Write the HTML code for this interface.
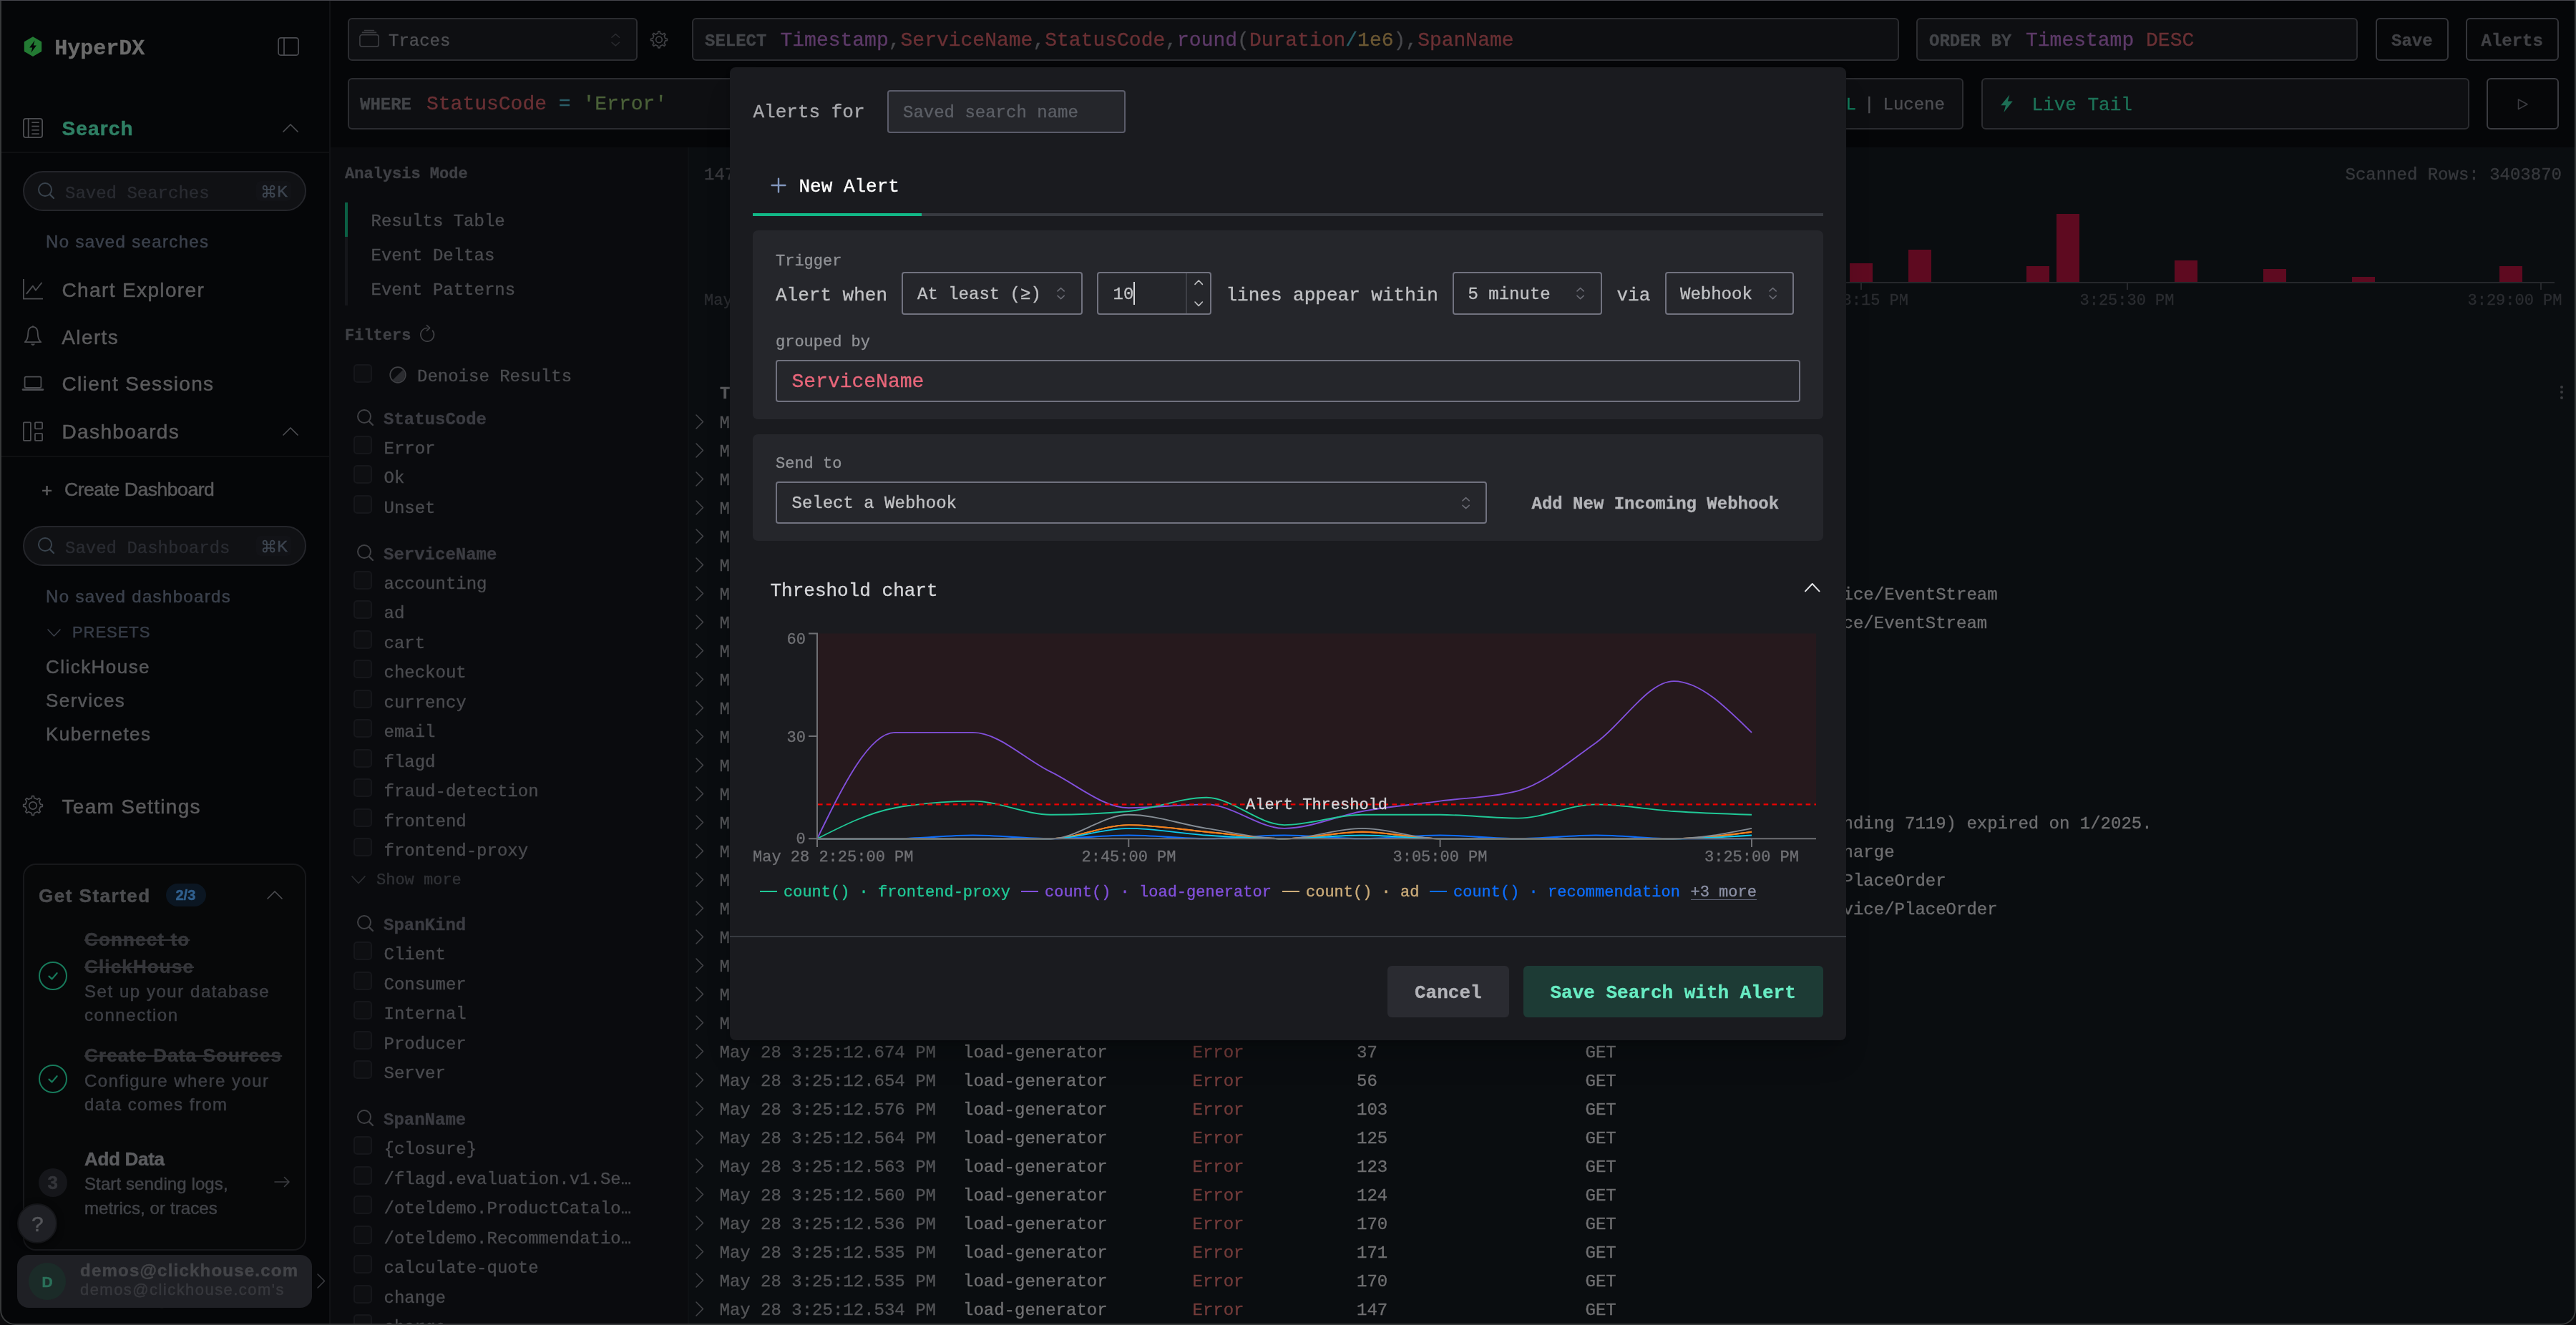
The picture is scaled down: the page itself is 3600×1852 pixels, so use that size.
<!DOCTYPE html>
<html><head><meta charset="utf-8"><title>HyperDX</title>
<style>
html,body{margin:0;padding:0;background:#0a0d10;}
body{width:3600px;height:1852px;position:relative;overflow:hidden;font-family:"Liberation Mono",monospace;}
.a{position:absolute;white-space:nowrap;box-sizing:border-box;}
.s{font-family:"Liberation Sans",sans-serif;-webkit-text-stroke:0.5px;}
.b{font-weight:700;}
#root{position:absolute;left:0;top:0;width:3600px;height:1852px;overflow:hidden;will-change:transform;-webkit-text-stroke:0.35px;}
</style></head><body><div id="root">
<div class="a" style="left:0px;top:0px;width:3600px;height:1852px;background:#0a0d10;"></div>
<div class="a" style="left:0px;top:0px;width:3600px;height:206px;background:#050608;"></div>
<div class="a" style="left:462px;top:206px;width:500px;height:1646px;background:#0a0b0e;"></div>
<div class="a" style="left:961px;top:206px;width:2px;height:1646px;background:#0e1114;"></div>
<div class="a" style="left:0px;top:0px;width:461px;height:1852px;background:#050608;"></div>
<div class="a" style="left:460px;top:0px;width:2px;height:1852px;background:#111215;"></div>
<svg class="a" style="left:30px;top:48px;" width="32" height="34" viewBox="0 0 32 34" fill="none"><path d="M16,3.2 L27.6,9.9 Q28.2,10.3 28.2,11 L28.2,23.2 Q28.2,23.9 27.6,24.3 L16,31 L4.4,24.3 Q3.8,23.9 3.8,23.2 L3.8,11 Q3.8,10.3 4.4,9.9 Z" fill="#237a33"/><path d="M18.6,8.5 L11.2,18.6 L15.2,18.6 L13.4,25.8 L20.9,15.4 L16.8,15.4 Z" fill="#050608"/></svg>
<div class="a " style="left:76.3px;top:52.9px;font-size:30px;line-height:30px;color:#6b6b6b;font-weight:700;">HyperDX</div>
<svg class="a" style="left:386px;top:50px;" width="34" height="30" viewBox="0 0 34 30" fill="none"><rect x="3.1" y="2.8" width="28" height="24.4" rx="3.5" stroke="#4a4b50" stroke-width="1.7"/><line x1="11" y1="3" x2="11" y2="27" stroke="#4a4b50" stroke-width="1.7"/></svg>
<svg class="a" style="left:30px;top:163px;" width="32" height="32" viewBox="0 0 32 32" fill="none"><rect x="2.9" y="2.9" width="26.2" height="26.2" rx="3.2" stroke="#4c4d51" stroke-width="1.8"/><line x1="9.7" y1="3" x2="9.7" y2="29" stroke="#4c4d51" stroke-width="1.8"/><line x1="14.3" y1="8.2" x2="24.8" y2="8.2" stroke="#4c4d51" stroke-width="1.7"/><line x1="14.3" y1="13.5" x2="24.8" y2="13.5" stroke="#4c4d51" stroke-width="1.7"/><line x1="14.3" y1="18.8" x2="24.8" y2="18.8" stroke="#4c4d51" stroke-width="1.7"/><line x1="14.3" y1="24.1" x2="24.8" y2="24.1" stroke="#4c4d51" stroke-width="1.7"/></svg>
<div class="a  s" style="left:86.5px;top:166.1px;font-size:28px;line-height:28px;color:#2f7f64;font-weight:700;letter-spacing:1.15px;">Search</div>
<svg class="a" style="left:394px;top:172px;" width="24" height="14" viewBox="0 0 24 14" fill="none"><polyline points="2,12 12.0,2 22,12" stroke="#4c4d51" stroke-width="1.7" stroke-linecap="round" stroke-linejoin="round"/></svg>
<div class="a" style="left:0px;top:212px;width:460px;height:2px;background:#0f1012;"></div>
<div class="a" style="left:32px;top:239px;width:396px;height:55.5px;background:#101114;border:2px solid #24252a;border-radius:28px;"></div>
<svg class="a" style="left:51px;top:252.5px;" width="32" height="32" viewBox="0 0 32 32" fill="none"><circle cx="12.0" cy="12.0" r="9.0" stroke="#39434d" stroke-width="2"/><line x1="19.07" y1="19.07" x2="24" y2="24" stroke="#39434d" stroke-width="2.4" stroke-linecap="round"/></svg>
<div class="a " style="left:91.0px;top:259.1px;font-size:24px;line-height:24px;color:#2a2c32;">Saved Searches</div>
<div class="a" style="left:358px;top:253px;width:49px;height:28px;background:#121317;border-radius:6px;"></div>
<svg class="a" style="left:364.7px;top:256.6px;" width="21.1" height="21.1" viewBox="0 0 24 24" fill="none"><path d="M18 3a3 3 0 0 0-3 3v12a3 3 0 0 0 3 3 3 3 0 0 0 3-3 3 3 0 0 0-3-3H6a3 3 0 0 0-3 3 3 3 0 0 0 3 3 3 3 0 0 0 3-3V6a3 3 0 0 0-3-3 3 3 0 0 0-3 3 3 3 0 0 0 3 3h12a3 3 0 0 0 3-3 3 3 0 0 0-3-3z" stroke="#3d4550" stroke-width="2.1" stroke-linejoin="round"/></svg>
<div class="a  s" style="left:387.3px;top:257.4px;font-size:22px;line-height:22px;color:#3d4550;">K</div>
<div class="a  s" style="left:64.0px;top:325.7px;font-size:24px;line-height:24px;color:#3b414c;letter-spacing:1.35px;">No saved searches</div>
<svg class="a" style="left:30px;top:388px;" width="32" height="32" viewBox="0 0 32 32" fill="none"><path d="M2.9,2 V29.6 H30" stroke="#4c4d51" stroke-width="1.8"/><polyline points="7.3,22.4 15.9,11.6 19.9,17.7 28.1,7.5" stroke="#4c4d51" stroke-width="1.8" stroke-linejoin="round" stroke-linecap="round"/></svg>
<div class="a  s" style="left:86.5px;top:391.5px;font-size:28px;line-height:28px;color:#5b5b5d;letter-spacing:1.37px;">Chart Explorer</div>
<svg class="a" style="left:30px;top:453px;" width="32" height="34" viewBox="0 0 32 34" fill="none"><path d="M16,3.6 C10.6,4.2 9.2,9 9.2,13.2 C9.2,18 8,22.2 4.8,25.2 H27.2 C24,22.2 22.8,18 22.8,13.2 C22.8,9 21.4,4.2 16,3.6 Z" stroke="#4c4d51" stroke-width="1.8" stroke-linejoin="round"/><path d="M13,27.6 A3.1,3.1 0 0 0 19,27.6 Z" fill="#4c4d51"/><circle cx="16" cy="3.4" r="1.2" fill="#4c4d51"/></svg>
<div class="a  s" style="left:86.3px;top:458.1px;font-size:28px;line-height:28px;color:#5b5b5d;letter-spacing:1.37px;">Alerts</div>
<svg class="a" style="left:30px;top:523px;" width="32" height="26" viewBox="0 0 32 26" fill="none"><rect x="4.6" y="3.6" width="22.8" height="15.2" rx="1.8" stroke="#4c4d51" stroke-width="1.8"/><path d="M2,21.6 H30" stroke="#4c4d51" stroke-width="2.6" stroke-linecap="round"/></svg>
<div class="a  s" style="left:86.5px;top:523.2px;font-size:28px;line-height:28px;color:#5b5b5d;letter-spacing:1.33px;">Client Sessions</div>
<svg class="a" style="left:30px;top:587px;" width="32" height="32" viewBox="0 0 32 32" fill="none"><rect x="2.9" y="3.3" width="10" height="25.6" rx="1" stroke="#4c4d51" stroke-width="1.8"/><rect x="19" y="3.3" width="10.1" height="9" rx="1" stroke="#4c4d51" stroke-width="1.8"/><rect x="19" y="18.8" width="10.1" height="10.1" rx="1" stroke="#4c4d51" stroke-width="1.8"/></svg>
<div class="a  s" style="left:86.5px;top:589.8px;font-size:28px;line-height:28px;color:#5b5b5d;letter-spacing:1.37px;">Dashboards</div>
<svg class="a" style="left:394px;top:596px;" width="24" height="14" viewBox="0 0 24 14" fill="none"><polyline points="2,12 12.0,2 22,12" stroke="#4c4d51" stroke-width="1.7" stroke-linecap="round" stroke-linejoin="round"/></svg>
<div class="a" style="left:0px;top:637px;width:460px;height:2px;background:#0f1012;"></div>
<div class="a  s" style="left:58.0px;top:671.5px;font-size:26px;line-height:26px;color:#5b5b5d;">+</div>
<div class="a  s" style="left:90.0px;top:670.6px;font-size:26.5px;line-height:26.5px;color:#5b5b5d;letter-spacing:-0.45px;">Create Dashboard</div>
<div class="a" style="left:32px;top:735px;width:396px;height:55.5px;background:#101114;border:2px solid #24252a;border-radius:28px;"></div>
<svg class="a" style="left:51px;top:748.5px;" width="32" height="32" viewBox="0 0 32 32" fill="none"><circle cx="12.0" cy="12.0" r="9.0" stroke="#39434d" stroke-width="2"/><line x1="19.07" y1="19.07" x2="24" y2="24" stroke="#39434d" stroke-width="2.4" stroke-linecap="round"/></svg>
<div class="a " style="left:91.0px;top:755.1px;font-size:24px;line-height:24px;color:#2a2c32;">Saved Dashboards</div>
<div class="a" style="left:358px;top:749px;width:49px;height:28px;background:#121317;border-radius:6px;"></div>
<svg class="a" style="left:364.7px;top:752.6px;" width="21.1" height="21.1" viewBox="0 0 24 24" fill="none"><path d="M18 3a3 3 0 0 0-3 3v12a3 3 0 0 0 3 3 3 3 0 0 0 3-3 3 3 0 0 0-3-3H6a3 3 0 0 0-3 3 3 3 0 0 0 3 3 3 3 0 0 0 3-3V6a3 3 0 0 0-3-3 3 3 0 0 0-3 3 3 3 0 0 0 3 3h12a3 3 0 0 0 3-3 3 3 0 0 0-3-3z" stroke="#3d4550" stroke-width="2.1" stroke-linejoin="round"/></svg>
<div class="a  s" style="left:387.3px;top:753.4px;font-size:22px;line-height:22px;color:#3d4550;">K</div>
<div class="a  s" style="left:64.0px;top:821.7px;font-size:24px;line-height:24px;color:#3b414c;letter-spacing:1.35px;">No saved dashboards</div>
<svg class="a" style="left:65px;top:878px;" width="21" height="13" viewBox="0 0 21 13" fill="none"><polyline points="2,2 10.5,11 19,2" stroke="#3a3f49" stroke-width="1.6" stroke-linecap="round" stroke-linejoin="round"/></svg>
<div class="a  s" style="left:101.0px;top:872.9px;font-size:22px;line-height:22px;color:#373d48;letter-spacing:0.95px;">PRESETS</div>
<div class="a  s" style="left:64.0px;top:919.0px;font-size:26px;line-height:26px;color:#56575a;letter-spacing:1.45px;">ClickHouse</div>
<div class="a  s" style="left:64.0px;top:966.0px;font-size:26px;line-height:26px;color:#56575a;letter-spacing:1.45px;">Services</div>
<div class="a  s" style="left:64.0px;top:1013.0px;font-size:26px;line-height:26px;color:#56575a;letter-spacing:1.45px;">Kubernetes</div>
<svg class="a" style="left:30px;top:1110px;" width="32" height="32" viewBox="0 0 32 32" fill="none"><path d="M14.18,5.56 L14.63,2.67 L17.37,2.67 L17.82,5.56 L22.10,7.33 L24.46,5.61 L26.39,7.54 L24.67,9.90 L26.44,14.18 L29.33,14.63 L29.33,17.37 L26.44,17.82 L24.67,22.10 L26.39,24.46 L24.46,26.39 L22.10,24.67 L17.82,26.44 L17.37,29.33 L14.63,29.33 L14.18,26.44 L9.90,24.67 L7.54,26.39 L5.61,24.46 L7.33,22.10 L5.56,17.82 L2.67,17.37 L2.67,14.63 L5.56,14.18 L7.33,9.90 L5.61,7.54 L7.54,5.61 L9.90,7.33 Z" stroke="#4c4d51" stroke-width="1.7" stroke-linejoin="round"/><circle cx="16" cy="16" r="5.2" stroke="#4c4d51" stroke-width="1.7"/></svg>
<div class="a  s" style="left:86.5px;top:1113.6px;font-size:28px;line-height:28px;color:#5b5b5d;letter-spacing:1.3px;">Team Settings</div>
<div class="a" style="left:32px;top:1207px;width:396px;height:540.5px;background:#070809;border:2px solid #17181b;border-radius:18px;"></div>
<div class="a  s" style="left:54.0px;top:1239.0px;font-size:26px;line-height:26px;color:#4b4c4f;font-weight:700;letter-spacing:1.5px;">Get Started</div>
<div class="a" style="left:232px;top:1235px;width:56px;height:32px;background:#0b1622;border-radius:16px;"></div>
<div class="a  s" style="left:245.5px;top:1241.4px;font-size:20px;line-height:20px;color:#305f8d;font-weight:700;">2/3</div>
<svg class="a" style="left:372px;top:1244px;" width="24" height="14" viewBox="0 0 24 14" fill="none"><polyline points="2,12 12.0,2 22,12" stroke="#4c4d51" stroke-width="1.7" stroke-linecap="round" stroke-linejoin="round"/></svg>
<svg class="a" style="left:52px;top:1342px;" width="44" height="44" viewBox="0 0 44 44" fill="none"><circle cx="22" cy="22" r="19" stroke="#177a5b" stroke-width="2"/><polyline points="16.5,22.6 20.6,26.4 27.6,18.2" stroke="#177a5b" stroke-width="2.2" stroke-linecap="round" stroke-linejoin="round"/></svg>
<div class="a  s" style="left:118.0px;top:1300.0px;font-size:26px;line-height:26px;color:#35363a;font-weight:700;letter-spacing:1.15px;text-decoration:line-through;text-decoration-thickness:1.7px;">Connect to</div>
<div class="a  s" style="left:118.0px;top:1338.0px;font-size:26px;line-height:26px;color:#35363a;font-weight:700;letter-spacing:1.15px;text-decoration:line-through;text-decoration-thickness:1.7px;">ClickHouse</div>
<div class="a  s" style="left:118.0px;top:1373.7px;font-size:24px;line-height:24px;color:#3d3f45;letter-spacing:1.55px;">Set up your database</div>
<div class="a  s" style="left:118.0px;top:1406.7px;font-size:24px;line-height:24px;color:#3d3f45;letter-spacing:1.55px;">connection</div>
<svg class="a" style="left:52px;top:1486px;" width="44" height="44" viewBox="0 0 44 44" fill="none"><circle cx="22" cy="22" r="19" stroke="#177a5b" stroke-width="2"/><polyline points="16.5,22.6 20.6,26.4 27.6,18.2" stroke="#177a5b" stroke-width="2.2" stroke-linecap="round" stroke-linejoin="round"/></svg>
<div class="a  s" style="left:118.0px;top:1462.0px;font-size:26px;line-height:26px;color:#35363a;font-weight:700;letter-spacing:1.15px;text-decoration:line-through;text-decoration-thickness:1.7px;">Create Data Sources</div>
<div class="a  s" style="left:118.0px;top:1498.7px;font-size:24px;line-height:24px;color:#3d3f45;letter-spacing:1.45px;">Configure where your</div>
<div class="a  s" style="left:118.0px;top:1531.7px;font-size:24px;line-height:24px;color:#3d3f45;letter-spacing:1.45px;">data comes from</div>
<div class="a  s" style="left:118.0px;top:1606.5px;font-size:26px;line-height:26px;color:#5b5c5f;font-weight:700;letter-spacing:-0.3px;">Add Data</div>
<div class="a" style="left:54px;top:1633px;width:40px;height:40px;background:#15161a;border-radius:20px;"></div>
<div class="a  s" style="left:66.5px;top:1640.0px;font-size:26px;line-height:26px;color:#34353a;font-weight:700;">3</div>
<div class="a  s" style="left:118.0px;top:1643.2px;font-size:24px;line-height:24px;color:#414348;letter-spacing:0.1px;">Start sending logs,</div>
<div class="a  s" style="left:118.0px;top:1676.7px;font-size:24px;line-height:24px;color:#414348;letter-spacing:0.1px;">metrics, or traces</div>
<svg class="a" style="left:382px;top:1642px;" width="26" height="20" viewBox="0 0 26 20" fill="none"><path d="M2,10 H22 M15.5,3.5 L22,10 L15.5,16.5" stroke="#3c3d41" stroke-width="1.6" stroke-linecap="round" stroke-linejoin="round"/></svg>
<div class="a" style="left:24px;top:1682px;width:56px;height:56px;background:#1f2025;border:2px solid #141518;border-radius:28px;box-shadow:0 2px 10px rgba(0,0,0,.6);"></div>
<div class="a  s" style="left:44.0px;top:1695.6px;font-size:30px;line-height:30px;color:#55565a;">?</div>
<div class="a  s" style="left:150.0px;top:1807.4px;font-size:22px;line-height:22px;color:#121317;">demos@clickhouse.com</div>
<div class="a" style="left:24px;top:1754px;width:412px;height:74px;background:#1f2025;border-radius:16px;"></div>
<div class="a" style="left:40px;top:1765px;width:52px;height:52px;background:#1b2b28;border-radius:26px;"></div>
<div class="a  s" style="left:58.6px;top:1780.8px;font-size:21px;line-height:21px;color:#2a7059;font-weight:700;">D</div>
<div class="a  s" style="left:112.0px;top:1763.9px;font-size:24px;line-height:24px;color:#434448;font-weight:700;letter-spacing:1.22px;">demos@clickhouse.com</div>
<div class="a  s" style="left:112.0px;top:1792.4px;font-size:22px;line-height:22px;color:#37383d;letter-spacing:1.45px;">demos@clickhouse.com's</div>
<svg class="a" style="left:442px;top:1779px;" width="13.5" height="23" viewBox="0 0 13.5 23" fill="none"><polyline points="2,2 11.5,11.5 2,21" stroke="#3a3b3f" stroke-width="1.6" stroke-linecap="round" stroke-linejoin="round"/></svg>
<div class="a" style="left:486px;top:25px;width:405px;height:60px;background:#0e0f12;border:2px solid #2b2c30;border-radius:6px;"></div>
<svg class="a" style="left:500px;top:40px;" width="32" height="28" viewBox="0 0 32 28" fill="none"><rect x="2.9" y="8.6" width="26.2" height="16.6" rx="3" stroke="#3a3b3f" stroke-width="1.7"/><line x1="6.5" y1="5.4" x2="25.5" y2="5.4" stroke="#3a3b3f" stroke-width="1.6" stroke-linecap="round"/><line x1="9.5" y1="2.4" x2="22.5" y2="2.4" stroke="#3a3b3f" stroke-width="1.5" stroke-linecap="round"/></svg>
<div class="a " style="left:543.0px;top:45.9px;font-size:24px;line-height:24px;color:#4e4f53;">Traces</div>
<svg class="a" style="left:853px;top:44.5px;" width="14.5" height="21.5" viewBox="0 0 14.5 21.5" fill="none"><polyline points="2,7.25 7.25,2.6 12.5,7.25" stroke="#2a2b2f" stroke-width="1.5" stroke-linecap="round" stroke-linejoin="round"/><polyline points="2,14.25 7.25,18.9 12.5,14.25" stroke="#2a2b2f" stroke-width="1.5" stroke-linecap="round" stroke-linejoin="round"/></svg>
<svg class="a" style="left:905px;top:39px;" width="32" height="32" viewBox="0 0 32 32" fill="none"><path d="M14.47,7.63 L14.83,4.96 L17.17,4.96 L17.53,7.63 L21.12,9.12 L23.26,7.48 L24.92,9.14 L23.28,11.28 L24.77,14.87 L27.44,15.23 L27.44,17.57 L24.77,17.93 L23.28,21.52 L24.92,23.66 L23.26,25.32 L21.12,23.68 L17.53,25.17 L17.17,27.84 L14.83,27.84 L14.47,25.17 L10.88,23.68 L8.74,25.32 L7.08,23.66 L8.72,21.52 L7.23,17.93 L4.56,17.57 L4.56,15.23 L7.23,14.87 L8.72,11.28 L7.08,9.14 L8.74,7.48 L10.88,9.12 Z" stroke="#404145" stroke-width="1.7" stroke-linejoin="round"/><circle cx="16" cy="16.4" r="4.3" stroke="#404145" stroke-width="1.7"/></svg>
<div class="a" style="left:967px;top:25px;width:1687px;height:60px;background:#0e0f12;border:2px solid #2b2c30;border-radius:6px;"></div>
<div class="a " style="left:985.0px;top:46.2px;font-size:24px;line-height:24px;color:#424448;font-weight:700;">SELECT</div>
<div class="a " style="left:1090.5px;top:43.1px;font-size:28px;line-height:28px;color:#47484c;"><span style="color:#5d3a68">Timestamp</span><span style="color:#47484c">,</span><span style="color:#6a3034">ServiceName</span><span style="color:#47484c">,</span><span style="color:#6a3034">StatusCode</span><span style="color:#47484c">,</span><span style="color:#5d3a68">round</span><span style="color:#47484c">(</span><span style="color:#6a3034">Duration</span><span style="color:#2a5e68">/</span><span style="color:#6b5733">1e6</span><span style="color:#47484c">),</span><span style="color:#6a3034">SpanName</span></div>
<div class="a" style="left:2678px;top:25px;width:617px;height:60px;background:#0e0f12;border:2px solid #2b2c30;border-radius:6px;"></div>
<div class="a " style="left:2696.0px;top:46.2px;font-size:24px;line-height:24px;color:#424448;font-weight:700;">ORDER BY</div>
<div class="a " style="left:2831.0px;top:43.1px;font-size:28px;line-height:28px;color:#47484c;"><span style="color:#5d3a68">Timestamp</span> <span style="color:#6a3034">DESC</span></div>
<div class="a" style="left:3320px;top:25px;width:102px;height:60px;background:#060709;border:2px solid #34353a;border-radius:6px;"></div>
<div class="a " style="left:3342.0px;top:45.9px;font-size:24px;line-height:24px;color:#404145;font-weight:700;">Save</div>
<div class="a" style="left:3446px;top:25px;width:130px;height:60px;background:#060709;border:2px solid #34353a;border-radius:6px;"></div>
<div class="a " style="left:3467.5px;top:45.9px;font-size:24px;line-height:24px;color:#404145;font-weight:700;">Alerts</div>
<div class="a" style="left:486px;top:109px;width:2258px;height:72px;background:#0e0f12;border:2px solid #2b2c30;border-radius:6px;"></div>
<div class="a " style="left:503.0px;top:135.3px;font-size:24px;line-height:24px;color:#424448;font-weight:700;">WHERE</div>
<div class="a " style="left:596.0px;top:132.2px;font-size:28px;line-height:28px;color:#47484c;"><span style="color:#6a3034">StatusCode</span> <span style="color:#2a5e68">=</span> <span style="color:#4a6038">'Error'</span></div>
<div class="a " style="left:2550.7px;top:135.3px;font-size:24px;line-height:24px;color:#12805f;">SQL</div>
<div class="a " style="left:2605.0px;top:135.3px;font-size:24px;line-height:24px;color:#4e4f53;">|</div>
<div class="a " style="left:2631.5px;top:135.3px;font-size:24px;line-height:24px;color:#4e4f53;">Lucene</div>
<div class="a" style="left:2769px;top:109px;width:682px;height:72px;background:#0e0f12;border:2px solid #2b2c30;border-radius:6px;"></div>
<svg class="a" style="left:2792px;top:130px;" width="26" height="30" viewBox="0 0 26 30" fill="none"><path d="M16.4,2.6 L4.2,17.2 L11,17.2 L8.4,27 L20.8,11.6 L13.9,11.6 Z" fill="#1d6e55"/></svg>
<div class="a " style="left:2839.5px;top:133.8px;font-size:26px;line-height:26px;color:#1d7358;">Live Tail</div>
<div class="a" style="left:3475px;top:109px;width:101px;height:72px;background:#060709;border:2px solid #3a3b40;border-radius:6px;"></div>
<svg class="a" style="left:3516px;top:136px;" width="20" height="20" viewBox="0 0 20 20" fill="none"><path d="M3.5,3 L16,9.8 L3.5,16.6 Z" stroke="#3a3b40" stroke-width="1.6" stroke-linejoin="round"/></svg>
<div class="a " style="left:482.0px;top:233.1px;font-size:22px;line-height:22px;color:#3f4045;font-weight:700;">Analysis Mode</div>
<div class="a" style="left:482px;top:283px;width:4px;height:144px;background:#15161a;"></div>
<div class="a" style="left:482px;top:283px;width:4px;height:48px;background:#0b5f44;"></div>
<div class="a " style="left:518.5px;top:297.6px;font-size:24px;line-height:24px;color:#4b4c50;">Results Table</div>
<div class="a " style="left:518.5px;top:345.6px;font-size:24px;line-height:24px;color:#4b4c50;">Event Deltas</div>
<div class="a " style="left:518.5px;top:393.6px;font-size:24px;line-height:24px;color:#4b4c50;">Event Patterns</div>
<div class="a " style="left:482.0px;top:458.5px;font-size:22px;line-height:22px;color:#3f4045;font-weight:700;">Filters</div>
<svg class="a" style="left:584px;top:453px;" width="26" height="28" viewBox="0 0 26 28" fill="none"><path d="M20.6,9.2 A9.3,9.3 0 1 1 13,5.5" stroke="#404145" stroke-width="1.7" stroke-linecap="round"/><path d="M12.4,1.6 L16.6,5.4 L12.4,9.4" stroke="#404145" stroke-width="1.7" stroke-linecap="round" stroke-linejoin="round"/></svg>
<div class="a" style="left:494px;top:508.5px;width:26px;height:26px;background:#0e0f12;border:2px solid #16171b;border-radius:5px;"></div>
<svg class="a" style="left:542px;top:510px;" width="28" height="28" viewBox="0 0 28 28" fill="none"><circle cx="14" cy="14" r="10.8" stroke="#404145" stroke-width="1.7"/><path d="M21.6,6.4 A10.8,10.8 0 0 1 6.4,21.6 Z" fill="#2b2c30"/></svg>
<div class="a " style="left:583.0px;top:514.6px;font-size:24px;line-height:24px;color:#4b4c50;">Denoise Results</div>
<svg class="a" style="left:496.5px;top:569.7px;" width="32" height="32" viewBox="0 0 32 32" fill="none"><circle cx="12.0" cy="12.0" r="9.0" stroke="#404145" stroke-width="2"/><line x1="19.07" y1="19.07" x2="24" y2="24" stroke="#404145" stroke-width="2.4" stroke-linecap="round"/></svg>
<div class="a " style="left:536.0px;top:574.6px;font-size:24px;line-height:24px;color:#3b3c42;font-weight:700;">StatusCode</div>
<div class="a" style="left:494px;top:608.5px;width:26px;height:26px;background:#0e0f12;border:2px solid #16171b;border-radius:5px;"></div>
<div class="a " style="left:536.5px;top:615.5px;font-size:24px;line-height:24px;color:#4b4c50;">Error</div>
<div class="a" style="left:494px;top:650.05px;width:26px;height:26px;background:#0e0f12;border:2px solid #16171b;border-radius:5px;"></div>
<div class="a " style="left:536.5px;top:657.0px;font-size:24px;line-height:24px;color:#4b4c50;">Ok</div>
<div class="a" style="left:494px;top:691.6px;width:26px;height:26px;background:#0e0f12;border:2px solid #16171b;border-radius:5px;"></div>
<div class="a " style="left:536.5px;top:698.6px;font-size:24px;line-height:24px;color:#4b4c50;">Unset</div>
<svg class="a" style="left:496.5px;top:758.7px;" width="32" height="32" viewBox="0 0 32 32" fill="none"><circle cx="12.0" cy="12.0" r="9.0" stroke="#404145" stroke-width="2"/><line x1="19.07" y1="19.07" x2="24" y2="24" stroke="#404145" stroke-width="2.4" stroke-linecap="round"/></svg>
<div class="a " style="left:536.0px;top:763.6px;font-size:24px;line-height:24px;color:#3b3c42;font-weight:700;">ServiceName</div>
<div class="a" style="left:494px;top:797.5px;width:26px;height:26px;background:#0e0f12;border:2px solid #16171b;border-radius:5px;"></div>
<div class="a " style="left:536.5px;top:804.5px;font-size:24px;line-height:24px;color:#4b4c50;">accounting</div>
<div class="a" style="left:494px;top:839.05px;width:26px;height:26px;background:#0e0f12;border:2px solid #16171b;border-radius:5px;"></div>
<div class="a " style="left:536.5px;top:846.0px;font-size:24px;line-height:24px;color:#4b4c50;">ad</div>
<div class="a" style="left:494px;top:880.6px;width:26px;height:26px;background:#0e0f12;border:2px solid #16171b;border-radius:5px;"></div>
<div class="a " style="left:536.5px;top:887.6px;font-size:24px;line-height:24px;color:#4b4c50;">cart</div>
<div class="a" style="left:494px;top:922.15px;width:26px;height:26px;background:#0e0f12;border:2px solid #16171b;border-radius:5px;"></div>
<div class="a " style="left:536.5px;top:929.1px;font-size:24px;line-height:24px;color:#4b4c50;">checkout</div>
<div class="a" style="left:494px;top:963.6999999999999px;width:26px;height:26px;background:#0e0f12;border:2px solid #16171b;border-radius:5px;"></div>
<div class="a " style="left:536.5px;top:970.7px;font-size:24px;line-height:24px;color:#4b4c50;">currency</div>
<div class="a" style="left:494px;top:1005.2500000000001px;width:26px;height:26px;background:#0e0f12;border:2px solid #16171b;border-radius:5px;"></div>
<div class="a " style="left:536.5px;top:1012.2px;font-size:24px;line-height:24px;color:#4b4c50;">email</div>
<div class="a" style="left:494px;top:1046.8px;width:26px;height:26px;background:#0e0f12;border:2px solid #16171b;border-radius:5px;"></div>
<div class="a " style="left:536.5px;top:1053.8px;font-size:24px;line-height:24px;color:#4b4c50;">flagd</div>
<div class="a" style="left:494px;top:1088.35px;width:26px;height:26px;background:#0e0f12;border:2px solid #16171b;border-radius:5px;"></div>
<div class="a " style="left:536.5px;top:1095.3px;font-size:24px;line-height:24px;color:#4b4c50;">fraud-detection</div>
<div class="a" style="left:494px;top:1129.8999999999999px;width:26px;height:26px;background:#0e0f12;border:2px solid #16171b;border-radius:5px;"></div>
<div class="a " style="left:536.5px;top:1136.9px;font-size:24px;line-height:24px;color:#4b4c50;">frontend</div>
<div class="a" style="left:494px;top:1171.4499999999998px;width:26px;height:26px;background:#0e0f12;border:2px solid #16171b;border-radius:5px;"></div>
<div class="a " style="left:536.5px;top:1178.4px;font-size:24px;line-height:24px;color:#4b4c50;">frontend-proxy</div>
<svg class="a" style="left:490px;top:1223px;" width="22" height="13.5" viewBox="0 0 22 13.5" fill="none"><polyline points="2,2 11.0,11.5 20,2" stroke="#2e3034" stroke-width="1.6" stroke-linecap="round" stroke-linejoin="round"/></svg>
<div class="a " style="left:526.0px;top:1219.8px;font-size:22px;line-height:22px;color:#303236;">Show more</div>
<svg class="a" style="left:496.5px;top:1277.2px;" width="32" height="32" viewBox="0 0 32 32" fill="none"><circle cx="12.0" cy="12.0" r="9.0" stroke="#404145" stroke-width="2"/><line x1="19.07" y1="19.07" x2="24" y2="24" stroke="#404145" stroke-width="2.4" stroke-linecap="round"/></svg>
<div class="a " style="left:536.0px;top:1282.1px;font-size:24px;line-height:24px;color:#3b3c42;font-weight:700;">SpanKind</div>
<div class="a" style="left:494px;top:1316.0px;width:26px;height:26px;background:#0e0f12;border:2px solid #16171b;border-radius:5px;"></div>
<div class="a " style="left:536.5px;top:1323.0px;font-size:24px;line-height:24px;color:#4b4c50;">Client</div>
<div class="a" style="left:494px;top:1357.55px;width:26px;height:26px;background:#0e0f12;border:2px solid #16171b;border-radius:5px;"></div>
<div class="a " style="left:536.5px;top:1364.5px;font-size:24px;line-height:24px;color:#4b4c50;">Consumer</div>
<div class="a" style="left:494px;top:1399.1px;width:26px;height:26px;background:#0e0f12;border:2px solid #16171b;border-radius:5px;"></div>
<div class="a " style="left:536.5px;top:1406.1px;font-size:24px;line-height:24px;color:#4b4c50;">Internal</div>
<div class="a" style="left:494px;top:1440.65px;width:26px;height:26px;background:#0e0f12;border:2px solid #16171b;border-radius:5px;"></div>
<div class="a " style="left:536.5px;top:1447.6px;font-size:24px;line-height:24px;color:#4b4c50;">Producer</div>
<div class="a" style="left:494px;top:1482.2px;width:26px;height:26px;background:#0e0f12;border:2px solid #16171b;border-radius:5px;"></div>
<div class="a " style="left:536.5px;top:1489.2px;font-size:24px;line-height:24px;color:#4b4c50;">Server</div>
<svg class="a" style="left:496.5px;top:1549.2px;" width="32" height="32" viewBox="0 0 32 32" fill="none"><circle cx="12.0" cy="12.0" r="9.0" stroke="#404145" stroke-width="2"/><line x1="19.07" y1="19.07" x2="24" y2="24" stroke="#404145" stroke-width="2.4" stroke-linecap="round"/></svg>
<div class="a " style="left:536.0px;top:1554.1px;font-size:24px;line-height:24px;color:#3b3c42;font-weight:700;">SpanName</div>
<div class="a" style="left:494px;top:1588.0px;width:26px;height:26px;background:#0e0f12;border:2px solid #16171b;border-radius:5px;"></div>
<div class="a " style="left:536.5px;top:1595.0px;font-size:24px;line-height:24px;color:#4b4c50;">{closure}</div>
<div class="a" style="left:494px;top:1629.55px;width:26px;height:26px;background:#0e0f12;border:2px solid #16171b;border-radius:5px;"></div>
<div class="a " style="left:536.5px;top:1636.5px;font-size:24px;line-height:24px;color:#4b4c50;">/flagd.evaluation.v1.Se&#8230;</div>
<div class="a" style="left:494px;top:1671.1px;width:26px;height:26px;background:#0e0f12;border:2px solid #16171b;border-radius:5px;"></div>
<div class="a " style="left:536.5px;top:1678.1px;font-size:24px;line-height:24px;color:#4b4c50;">/oteldemo.ProductCatalo&#8230;</div>
<div class="a" style="left:494px;top:1712.65px;width:26px;height:26px;background:#0e0f12;border:2px solid #16171b;border-radius:5px;"></div>
<div class="a " style="left:536.5px;top:1719.6px;font-size:24px;line-height:24px;color:#4b4c50;">/oteldemo.Recommendatio&#8230;</div>
<div class="a" style="left:494px;top:1754.2px;width:26px;height:26px;background:#0e0f12;border:2px solid #16171b;border-radius:5px;"></div>
<div class="a " style="left:536.5px;top:1761.2px;font-size:24px;line-height:24px;color:#4b4c50;">calculate-quote</div>
<div class="a" style="left:494px;top:1795.75px;width:26px;height:26px;background:#0e0f12;border:2px solid #16171b;border-radius:5px;"></div>
<div class="a " style="left:536.5px;top:1802.7px;font-size:24px;line-height:24px;color:#4b4c50;">change</div>
<div class="a" style="left:494px;top:1837.3px;width:26px;height:26px;background:#0e0f12;border:2px solid #16171b;border-radius:5px;"></div>
<div class="a " style="left:536.5px;top:1844.3px;font-size:24px;line-height:24px;color:#4b4c50;">charge</div>
<div class="a " style="left:984.0px;top:232.6px;font-size:24px;line-height:24px;color:#393a3e;">1473 Results</div>
<div class="a " style="left:3277.5px;top:232.5px;font-size:24px;line-height:24px;color:#37393d;">Scanned Rows: 3403870</div>
<div class="a" style="left:2585px;top:368px;width:32px;height:26px;background:#5e0a20;"></div>
<div class="a" style="left:2667px;top:349px;width:32px;height:45px;background:#5e0a20;"></div>
<div class="a" style="left:2831.5px;top:372px;width:32.0px;height:22px;background:#5e0a20;"></div>
<div class="a" style="left:2873.5px;top:298.5px;width:32.0px;height:95.5px;background:#5e0a20;"></div>
<div class="a" style="left:3038.5px;top:364px;width:32.0px;height:30px;background:#5e0a20;"></div>
<div class="a" style="left:3162.5px;top:375.5px;width:32.0px;height:18.5px;background:#5e0a20;"></div>
<div class="a" style="left:3286.5px;top:387px;width:32.0px;height:7px;background:#5e0a20;"></div>
<div class="a" style="left:3492.5px;top:372px;width:32.0px;height:22px;background:#5e0a20;"></div>
<div class="a" style="left:1040px;top:394px;width:2530px;height:2px;background:#26282c;"></div>
<div class="a" style="left:2600px;top:394px;width:2px;height:11px;background:#26282c;"></div>
<div class="a" style="left:2971.5px;top:394px;width:2px;height:11px;background:#26282c;"></div>
<div class="a" style="left:3549.5px;top:394px;width:2px;height:11px;background:#26282c;"></div>
<div class="a " style="left:984.0px;top:410.1px;font-size:22px;line-height:22px;color:#2b2d31;">May 28 3:01:00 PM</div>
<div class="a " style="left:2535.0px;top:410.1px;font-size:22px;line-height:22px;color:#2b2d31;">3:23:15 PM</div>
<div class="a " style="left:2906.5px;top:410.1px;font-size:22px;line-height:22px;color:#2b2d31;">3:25:30 PM</div>
<div class="a " style="left:3448.5px;top:410.1px;font-size:22px;line-height:22px;color:#2b2d31;">3:29:00 PM</div>
<div class="a " style="left:1006.0px;top:539.1px;font-size:24px;line-height:24px;color:#595a5d;font-weight:700;">Timestamp</div>
<div class="a" style="left:3578px;top:538.5px;width:4px;height:4px;background:#3a3b3f;border-radius:2px;"></div>
<div class="a" style="left:3578px;top:546.0px;width:4px;height:4px;background:#3a3b3f;border-radius:2px;"></div>
<div class="a" style="left:3578px;top:553.5px;width:4px;height:4px;background:#3a3b3f;border-radius:2px;"></div>
<svg class="a" style="left:970.5px;top:578.2px;" width="13.5" height="23" viewBox="0 0 13.5 23" fill="none"><polyline points="2,2 11.5,11.5 2,21" stroke="#45464a" stroke-width="1.5" stroke-linecap="round" stroke-linejoin="round"/></svg>
<div class="a " style="left:1005.5px;top:579.5px;font-size:24px;line-height:24px;color:#545558;">M</div>
<svg class="a" style="left:970.5px;top:618.2px;" width="13.5" height="23" viewBox="0 0 13.5 23" fill="none"><polyline points="2,2 11.5,11.5 2,21" stroke="#45464a" stroke-width="1.5" stroke-linecap="round" stroke-linejoin="round"/></svg>
<div class="a " style="left:1005.5px;top:619.5px;font-size:24px;line-height:24px;color:#545558;">M</div>
<svg class="a" style="left:970.5px;top:658.2px;" width="13.5" height="23" viewBox="0 0 13.5 23" fill="none"><polyline points="2,2 11.5,11.5 2,21" stroke="#45464a" stroke-width="1.5" stroke-linecap="round" stroke-linejoin="round"/></svg>
<div class="a " style="left:1005.5px;top:659.5px;font-size:24px;line-height:24px;color:#545558;">M</div>
<svg class="a" style="left:970.5px;top:698.2px;" width="13.5" height="23" viewBox="0 0 13.5 23" fill="none"><polyline points="2,2 11.5,11.5 2,21" stroke="#45464a" stroke-width="1.5" stroke-linecap="round" stroke-linejoin="round"/></svg>
<div class="a " style="left:1005.5px;top:699.5px;font-size:24px;line-height:24px;color:#545558;">M</div>
<svg class="a" style="left:970.5px;top:738.2px;" width="13.5" height="23" viewBox="0 0 13.5 23" fill="none"><polyline points="2,2 11.5,11.5 2,21" stroke="#45464a" stroke-width="1.5" stroke-linecap="round" stroke-linejoin="round"/></svg>
<div class="a " style="left:1005.5px;top:739.5px;font-size:24px;line-height:24px;color:#545558;">M</div>
<svg class="a" style="left:970.5px;top:778.2px;" width="13.5" height="23" viewBox="0 0 13.5 23" fill="none"><polyline points="2,2 11.5,11.5 2,21" stroke="#45464a" stroke-width="1.5" stroke-linecap="round" stroke-linejoin="round"/></svg>
<div class="a " style="left:1005.5px;top:779.5px;font-size:24px;line-height:24px;color:#545558;">M</div>
<svg class="a" style="left:970.5px;top:818.2px;" width="13.5" height="23" viewBox="0 0 13.5 23" fill="none"><polyline points="2,2 11.5,11.5 2,21" stroke="#45464a" stroke-width="1.5" stroke-linecap="round" stroke-linejoin="round"/></svg>
<div class="a " style="left:1005.5px;top:819.5px;font-size:24px;line-height:24px;color:#545558;">M</div>
<div class="a " style="left:2215.5px;top:819.5px;font-size:24px;line-height:24px;color:#6f6f71;">/flagd.evaluation.v1.Service/EventStream</div>
<svg class="a" style="left:970.5px;top:858.2px;" width="13.5" height="23" viewBox="0 0 13.5 23" fill="none"><polyline points="2,2 11.5,11.5 2,21" stroke="#45464a" stroke-width="1.5" stroke-linecap="round" stroke-linejoin="round"/></svg>
<div class="a " style="left:1005.5px;top:859.5px;font-size:24px;line-height:24px;color:#545558;">M</div>
<div class="a " style="left:2215.5px;top:859.5px;font-size:24px;line-height:24px;color:#6f6f71;">flagd.evaluation.v1.Service/EventStream</div>
<svg class="a" style="left:970.5px;top:898.2px;" width="13.5" height="23" viewBox="0 0 13.5 23" fill="none"><polyline points="2,2 11.5,11.5 2,21" stroke="#45464a" stroke-width="1.5" stroke-linecap="round" stroke-linejoin="round"/></svg>
<div class="a " style="left:1005.5px;top:899.5px;font-size:24px;line-height:24px;color:#545558;">M</div>
<svg class="a" style="left:970.5px;top:938.2px;" width="13.5" height="23" viewBox="0 0 13.5 23" fill="none"><polyline points="2,2 11.5,11.5 2,21" stroke="#45464a" stroke-width="1.5" stroke-linecap="round" stroke-linejoin="round"/></svg>
<div class="a " style="left:1005.5px;top:939.5px;font-size:24px;line-height:24px;color:#545558;">M</div>
<svg class="a" style="left:970.5px;top:978.2px;" width="13.5" height="23" viewBox="0 0 13.5 23" fill="none"><polyline points="2,2 11.5,11.5 2,21" stroke="#45464a" stroke-width="1.5" stroke-linecap="round" stroke-linejoin="round"/></svg>
<div class="a " style="left:1005.5px;top:979.5px;font-size:24px;line-height:24px;color:#545558;">M</div>
<svg class="a" style="left:970.5px;top:1018.2px;" width="13.5" height="23" viewBox="0 0 13.5 23" fill="none"><polyline points="2,2 11.5,11.5 2,21" stroke="#45464a" stroke-width="1.5" stroke-linecap="round" stroke-linejoin="round"/></svg>
<div class="a " style="left:1005.5px;top:1019.5px;font-size:24px;line-height:24px;color:#545558;">M</div>
<svg class="a" style="left:970.5px;top:1058.2px;" width="13.5" height="23" viewBox="0 0 13.5 23" fill="none"><polyline points="2,2 11.5,11.5 2,21" stroke="#45464a" stroke-width="1.5" stroke-linecap="round" stroke-linejoin="round"/></svg>
<div class="a " style="left:1005.5px;top:1059.5px;font-size:24px;line-height:24px;color:#545558;">M</div>
<svg class="a" style="left:970.5px;top:1098.2px;" width="13.5" height="23" viewBox="0 0 13.5 23" fill="none"><polyline points="2,2 11.5,11.5 2,21" stroke="#45464a" stroke-width="1.5" stroke-linecap="round" stroke-linejoin="round"/></svg>
<div class="a " style="left:1005.5px;top:1099.5px;font-size:24px;line-height:24px;color:#545558;">M</div>
<svg class="a" style="left:970.5px;top:1138.2px;" width="13.5" height="23" viewBox="0 0 13.5 23" fill="none"><polyline points="2,2 11.5,11.5 2,21" stroke="#45464a" stroke-width="1.5" stroke-linecap="round" stroke-linejoin="round"/></svg>
<div class="a " style="left:1005.5px;top:1139.5px;font-size:24px;line-height:24px;color:#545558;">M</div>
<div class="a " style="left:2215.5px;top:1139.5px;font-size:24px;line-height:24px;color:#6f6f71;">xxxxError: Credit card (ending 7119) expired on 1/2025.</div>
<svg class="a" style="left:970.5px;top:1178.2px;" width="13.5" height="23" viewBox="0 0 13.5 23" fill="none"><polyline points="2,2 11.5,11.5 2,21" stroke="#45464a" stroke-width="1.5" stroke-linecap="round" stroke-linejoin="round"/></svg>
<div class="a " style="left:1005.5px;top:1179.5px;font-size:24px;line-height:24px;color:#545558;">M</div>
<div class="a " style="left:2215.5px;top:1179.5px;font-size:24px;line-height:24px;color:#6f6f71;">oteldemo.PaymentService/Charge</div>
<svg class="a" style="left:970.5px;top:1218.2px;" width="13.5" height="23" viewBox="0 0 13.5 23" fill="none"><polyline points="2,2 11.5,11.5 2,21" stroke="#45464a" stroke-width="1.5" stroke-linecap="round" stroke-linejoin="round"/></svg>
<div class="a " style="left:1005.5px;top:1219.5px;font-size:24px;line-height:24px;color:#545558;">M</div>
<div class="a " style="left:2215.5px;top:1219.5px;font-size:24px;line-height:24px;color:#6f6f71;">oteldemo.CheckoutService/PlaceOrder</div>
<svg class="a" style="left:970.5px;top:1258.2px;" width="13.5" height="23" viewBox="0 0 13.5 23" fill="none"><polyline points="2,2 11.5,11.5 2,21" stroke="#45464a" stroke-width="1.5" stroke-linecap="round" stroke-linejoin="round"/></svg>
<div class="a " style="left:1005.5px;top:1259.5px;font-size:24px;line-height:24px;color:#545558;">M</div>
<div class="a " style="left:2215.5px;top:1259.5px;font-size:24px;line-height:24px;color:#6f6f71;">grpc.oteldemo.CheckoutService/PlaceOrder</div>
<svg class="a" style="left:970.5px;top:1298.2px;" width="13.5" height="23" viewBox="0 0 13.5 23" fill="none"><polyline points="2,2 11.5,11.5 2,21" stroke="#45464a" stroke-width="1.5" stroke-linecap="round" stroke-linejoin="round"/></svg>
<div class="a " style="left:1005.5px;top:1299.5px;font-size:24px;line-height:24px;color:#545558;">M</div>
<svg class="a" style="left:970.5px;top:1338.2px;" width="13.5" height="23" viewBox="0 0 13.5 23" fill="none"><polyline points="2,2 11.5,11.5 2,21" stroke="#45464a" stroke-width="1.5" stroke-linecap="round" stroke-linejoin="round"/></svg>
<div class="a " style="left:1005.5px;top:1339.5px;font-size:24px;line-height:24px;color:#545558;">M</div>
<svg class="a" style="left:970.5px;top:1378.2px;" width="13.5" height="23" viewBox="0 0 13.5 23" fill="none"><polyline points="2,2 11.5,11.5 2,21" stroke="#45464a" stroke-width="1.5" stroke-linecap="round" stroke-linejoin="round"/></svg>
<div class="a " style="left:1005.5px;top:1379.5px;font-size:24px;line-height:24px;color:#545558;">M</div>
<svg class="a" style="left:970.5px;top:1418.2px;" width="13.5" height="23" viewBox="0 0 13.5 23" fill="none"><polyline points="2,2 11.5,11.5 2,21" stroke="#45464a" stroke-width="1.5" stroke-linecap="round" stroke-linejoin="round"/></svg>
<div class="a " style="left:1005.5px;top:1419.5px;font-size:24px;line-height:24px;color:#545558;">M</div>
<svg class="a" style="left:970.5px;top:1458.2px;" width="13.5" height="23" viewBox="0 0 13.5 23" fill="none"><polyline points="2,2 11.5,11.5 2,21" stroke="#45464a" stroke-width="1.5" stroke-linecap="round" stroke-linejoin="round"/></svg>
<div class="a " style="left:1005.5px;top:1459.5px;font-size:24px;line-height:24px;color:#545558;">May 28 3:25:12.674 PM</div>
<div class="a " style="left:1346.0px;top:1459.5px;font-size:24px;line-height:24px;color:#717173;">load-generator</div>
<div class="a " style="left:1666.5px;top:1459.5px;font-size:24px;line-height:24px;color:#733b3a;">Error</div>
<div class="a " style="left:1896.0px;top:1459.5px;font-size:24px;line-height:24px;color:#6f6f71;">37</div>
<div class="a " style="left:2215.5px;top:1459.5px;font-size:24px;line-height:24px;color:#6f6f71;">GET</div>
<svg class="a" style="left:970.5px;top:1498.2px;" width="13.5" height="23" viewBox="0 0 13.5 23" fill="none"><polyline points="2,2 11.5,11.5 2,21" stroke="#45464a" stroke-width="1.5" stroke-linecap="round" stroke-linejoin="round"/></svg>
<div class="a " style="left:1005.5px;top:1499.5px;font-size:24px;line-height:24px;color:#545558;">May 28 3:25:12.654 PM</div>
<div class="a " style="left:1346.0px;top:1499.5px;font-size:24px;line-height:24px;color:#717173;">load-generator</div>
<div class="a " style="left:1666.5px;top:1499.5px;font-size:24px;line-height:24px;color:#733b3a;">Error</div>
<div class="a " style="left:1896.0px;top:1499.5px;font-size:24px;line-height:24px;color:#6f6f71;">56</div>
<div class="a " style="left:2215.5px;top:1499.5px;font-size:24px;line-height:24px;color:#6f6f71;">GET</div>
<svg class="a" style="left:970.5px;top:1538.2px;" width="13.5" height="23" viewBox="0 0 13.5 23" fill="none"><polyline points="2,2 11.5,11.5 2,21" stroke="#45464a" stroke-width="1.5" stroke-linecap="round" stroke-linejoin="round"/></svg>
<div class="a " style="left:1005.5px;top:1539.5px;font-size:24px;line-height:24px;color:#545558;">May 28 3:25:12.576 PM</div>
<div class="a " style="left:1346.0px;top:1539.5px;font-size:24px;line-height:24px;color:#717173;">load-generator</div>
<div class="a " style="left:1666.5px;top:1539.5px;font-size:24px;line-height:24px;color:#733b3a;">Error</div>
<div class="a " style="left:1896.0px;top:1539.5px;font-size:24px;line-height:24px;color:#6f6f71;">103</div>
<div class="a " style="left:2215.5px;top:1539.5px;font-size:24px;line-height:24px;color:#6f6f71;">GET</div>
<svg class="a" style="left:970.5px;top:1578.2px;" width="13.5" height="23" viewBox="0 0 13.5 23" fill="none"><polyline points="2,2 11.5,11.5 2,21" stroke="#45464a" stroke-width="1.5" stroke-linecap="round" stroke-linejoin="round"/></svg>
<div class="a " style="left:1005.5px;top:1579.5px;font-size:24px;line-height:24px;color:#545558;">May 28 3:25:12.564 PM</div>
<div class="a " style="left:1346.0px;top:1579.5px;font-size:24px;line-height:24px;color:#717173;">load-generator</div>
<div class="a " style="left:1666.5px;top:1579.5px;font-size:24px;line-height:24px;color:#733b3a;">Error</div>
<div class="a " style="left:1896.0px;top:1579.5px;font-size:24px;line-height:24px;color:#6f6f71;">125</div>
<div class="a " style="left:2215.5px;top:1579.5px;font-size:24px;line-height:24px;color:#6f6f71;">GET</div>
<svg class="a" style="left:970.5px;top:1618.2px;" width="13.5" height="23" viewBox="0 0 13.5 23" fill="none"><polyline points="2,2 11.5,11.5 2,21" stroke="#45464a" stroke-width="1.5" stroke-linecap="round" stroke-linejoin="round"/></svg>
<div class="a " style="left:1005.5px;top:1619.5px;font-size:24px;line-height:24px;color:#545558;">May 28 3:25:12.563 PM</div>
<div class="a " style="left:1346.0px;top:1619.5px;font-size:24px;line-height:24px;color:#717173;">load-generator</div>
<div class="a " style="left:1666.5px;top:1619.5px;font-size:24px;line-height:24px;color:#733b3a;">Error</div>
<div class="a " style="left:1896.0px;top:1619.5px;font-size:24px;line-height:24px;color:#6f6f71;">123</div>
<div class="a " style="left:2215.5px;top:1619.5px;font-size:24px;line-height:24px;color:#6f6f71;">GET</div>
<svg class="a" style="left:970.5px;top:1658.2px;" width="13.5" height="23" viewBox="0 0 13.5 23" fill="none"><polyline points="2,2 11.5,11.5 2,21" stroke="#45464a" stroke-width="1.5" stroke-linecap="round" stroke-linejoin="round"/></svg>
<div class="a " style="left:1005.5px;top:1659.5px;font-size:24px;line-height:24px;color:#545558;">May 28 3:25:12.560 PM</div>
<div class="a " style="left:1346.0px;top:1659.5px;font-size:24px;line-height:24px;color:#717173;">load-generator</div>
<div class="a " style="left:1666.5px;top:1659.5px;font-size:24px;line-height:24px;color:#733b3a;">Error</div>
<div class="a " style="left:1896.0px;top:1659.5px;font-size:24px;line-height:24px;color:#6f6f71;">124</div>
<div class="a " style="left:2215.5px;top:1659.5px;font-size:24px;line-height:24px;color:#6f6f71;">GET</div>
<svg class="a" style="left:970.5px;top:1698.2px;" width="13.5" height="23" viewBox="0 0 13.5 23" fill="none"><polyline points="2,2 11.5,11.5 2,21" stroke="#45464a" stroke-width="1.5" stroke-linecap="round" stroke-linejoin="round"/></svg>
<div class="a " style="left:1005.5px;top:1699.5px;font-size:24px;line-height:24px;color:#545558;">May 28 3:25:12.536 PM</div>
<div class="a " style="left:1346.0px;top:1699.5px;font-size:24px;line-height:24px;color:#717173;">load-generator</div>
<div class="a " style="left:1666.5px;top:1699.5px;font-size:24px;line-height:24px;color:#733b3a;">Error</div>
<div class="a " style="left:1896.0px;top:1699.5px;font-size:24px;line-height:24px;color:#6f6f71;">170</div>
<div class="a " style="left:2215.5px;top:1699.5px;font-size:24px;line-height:24px;color:#6f6f71;">GET</div>
<svg class="a" style="left:970.5px;top:1738.2px;" width="13.5" height="23" viewBox="0 0 13.5 23" fill="none"><polyline points="2,2 11.5,11.5 2,21" stroke="#45464a" stroke-width="1.5" stroke-linecap="round" stroke-linejoin="round"/></svg>
<div class="a " style="left:1005.5px;top:1739.5px;font-size:24px;line-height:24px;color:#545558;">May 28 3:25:12.535 PM</div>
<div class="a " style="left:1346.0px;top:1739.5px;font-size:24px;line-height:24px;color:#717173;">load-generator</div>
<div class="a " style="left:1666.5px;top:1739.5px;font-size:24px;line-height:24px;color:#733b3a;">Error</div>
<div class="a " style="left:1896.0px;top:1739.5px;font-size:24px;line-height:24px;color:#6f6f71;">171</div>
<div class="a " style="left:2215.5px;top:1739.5px;font-size:24px;line-height:24px;color:#6f6f71;">GET</div>
<svg class="a" style="left:970.5px;top:1778.2px;" width="13.5" height="23" viewBox="0 0 13.5 23" fill="none"><polyline points="2,2 11.5,11.5 2,21" stroke="#45464a" stroke-width="1.5" stroke-linecap="round" stroke-linejoin="round"/></svg>
<div class="a " style="left:1005.5px;top:1779.5px;font-size:24px;line-height:24px;color:#545558;">May 28 3:25:12.535 PM</div>
<div class="a " style="left:1346.0px;top:1779.5px;font-size:24px;line-height:24px;color:#717173;">load-generator</div>
<div class="a " style="left:1666.5px;top:1779.5px;font-size:24px;line-height:24px;color:#733b3a;">Error</div>
<div class="a " style="left:1896.0px;top:1779.5px;font-size:24px;line-height:24px;color:#6f6f71;">170</div>
<div class="a " style="left:2215.5px;top:1779.5px;font-size:24px;line-height:24px;color:#6f6f71;">GET</div>
<svg class="a" style="left:970.5px;top:1818.2px;" width="13.5" height="23" viewBox="0 0 13.5 23" fill="none"><polyline points="2,2 11.5,11.5 2,21" stroke="#45464a" stroke-width="1.5" stroke-linecap="round" stroke-linejoin="round"/></svg>
<div class="a " style="left:1005.5px;top:1819.5px;font-size:24px;line-height:24px;color:#545558;">May 28 3:25:12.534 PM</div>
<div class="a " style="left:1346.0px;top:1819.5px;font-size:24px;line-height:24px;color:#717173;">load-generator</div>
<div class="a " style="left:1666.5px;top:1819.5px;font-size:24px;line-height:24px;color:#733b3a;">Error</div>
<div class="a " style="left:1896.0px;top:1819.5px;font-size:24px;line-height:24px;color:#6f6f71;">147</div>
<div class="a " style="left:2215.5px;top:1819.5px;font-size:24px;line-height:24px;color:#6f6f71;">GET</div>
<div class="a" style="left:1020px;top:94px;width:1560px;height:1360px;background:#1a1b1f;border-radius:8px;box-shadow:0 2px 6px rgba(0,0,0,.2),0 30px 40px -10px rgba(0,0,0,.2);"></div>
<div class="a " style="left:1052.5px;top:144.1px;font-size:26px;line-height:26px;color:#a9aaae;">Alerts for</div>
<div class="a" style="left:1240px;top:126px;width:333px;height:59.5px;background:#25262b;border:2px solid #5b5c6a;border-radius:4px;"></div>
<div class="a " style="left:1262.0px;top:145.6px;font-size:24px;line-height:24px;color:#5c5f66;">Saved search name</div>
<div class="a" style="left:1052px;top:298px;width:1496px;height:4px;background:#373a40;"></div>
<div class="a" style="left:1052px;top:298px;width:236px;height:4px;background:#12b886;"></div>
<svg class="a" style="left:1076px;top:247px;" width="24" height="24" viewBox="0 0 24 24" fill="none"><path d="M12,2.6 V21.4 M2.6,12 H21.4" stroke="#8297be" stroke-width="2.4" stroke-linecap="round"/></svg>
<div class="a " style="left:1116.5px;top:248.1px;font-size:26px;line-height:26px;color:#ffffff;">New Alert</div>
<div class="a" style="left:1052px;top:322px;width:1496px;height:264px;background:#25262b;border-radius:7px;"></div>
<div class="a " style="left:1084.0px;top:354.7px;font-size:22px;line-height:22px;color:#909296;">Trigger</div>
<div class="a " style="left:1084.0px;top:399.9px;font-size:26px;line-height:26px;color:#c1c2c5;">Alert when</div>
<div class="a" style="left:1260px;top:380px;width:253px;height:60px;background:#25262b;border:2px solid #71727f;border-radius:4px;"></div>
<div class="a " style="left:1282.0px;top:400.4px;font-size:24px;line-height:24px;color:#c1c2c5;">At least (&#8805;)</div>
<svg class="a" style="left:1476.3px;top:400px;" width="13.2" height="20.3" viewBox="0 0 13.2 20.3" fill="none"><polyline points="2,6.89 6.6,2.6 11.2,6.89" stroke="#686972" stroke-width="1.6" stroke-linecap="round" stroke-linejoin="round"/><polyline points="2,13.41 6.6,17.7 11.2,13.41" stroke="#686972" stroke-width="1.6" stroke-linecap="round" stroke-linejoin="round"/></svg>
<div class="a" style="left:1533px;top:380px;width:160px;height:60px;background:#25262b;border:2px solid #71727f;border-radius:4px;"></div>
<div class="a " style="left:1555.5px;top:400.4px;font-size:24px;line-height:24px;color:#c1c2c5;">10</div>
<div class="a" style="left:1584px;top:394px;width:2.2px;height:32px;background:#d8d9dc;"></div>
<div class="a" style="left:1657px;top:382px;width:2px;height:56px;background:#3e3f46;"></div>
<svg class="a" style="left:1668px;top:390.3px;" width="14.4" height="9.4" viewBox="0 0 14.4 9.4" fill="none"><polyline points="2,7.4 7.2,2 12.4,7.4" stroke="#c1c2c5" stroke-width="1.6" stroke-linecap="round" stroke-linejoin="round"/></svg>
<svg class="a" style="left:1668px;top:420.3px;" width="14.4" height="9.4" viewBox="0 0 14.4 9.4" fill="none"><polyline points="2,2 7.2,7.4 12.4,2" stroke="#c1c2c5" stroke-width="1.6" stroke-linecap="round" stroke-linejoin="round"/></svg>
<div class="a " style="left:1713.5px;top:399.9px;font-size:26px;line-height:26px;color:#c1c2c5;">lines appear within</div>
<div class="a" style="left:2029.5px;top:380px;width:209px;height:60px;background:#25262b;border:2px solid #71727f;border-radius:4px;"></div>
<div class="a " style="left:2051.5px;top:400.4px;font-size:24px;line-height:24px;color:#c1c2c5;">5 minute</div>
<svg class="a" style="left:2202.3px;top:400px;" width="13.2" height="20.3" viewBox="0 0 13.2 20.3" fill="none"><polyline points="2,6.89 6.6,2.6 11.2,6.89" stroke="#686972" stroke-width="1.6" stroke-linecap="round" stroke-linejoin="round"/><polyline points="2,13.41 6.6,17.7 11.2,13.41" stroke="#686972" stroke-width="1.6" stroke-linecap="round" stroke-linejoin="round"/></svg>
<div class="a " style="left:2259.5px;top:399.9px;font-size:26px;line-height:26px;color:#c1c2c5;">via</div>
<div class="a" style="left:2326.5px;top:380px;width:180px;height:60px;background:#25262b;border:2px solid #71727f;border-radius:4px;"></div>
<div class="a " style="left:2348.0px;top:400.4px;font-size:24px;line-height:24px;color:#c1c2c5;">Webhook</div>
<svg class="a" style="left:2470.8px;top:400px;" width="13.2" height="20.3" viewBox="0 0 13.2 20.3" fill="none"><polyline points="2,6.89 6.6,2.6 11.2,6.89" stroke="#686972" stroke-width="1.6" stroke-linecap="round" stroke-linejoin="round"/><polyline points="2,13.41 6.6,17.7 11.2,13.41" stroke="#686972" stroke-width="1.6" stroke-linecap="round" stroke-linejoin="round"/></svg>
<div class="a " style="left:1084.0px;top:467.6px;font-size:22px;line-height:22px;color:#909296;">grouped by</div>
<div class="a" style="left:1084px;top:502.5px;width:1432px;height:59px;background:#25262b;border:2px solid #71727f;border-radius:4px;"></div>
<div class="a " style="left:1106.5px;top:520.0px;font-size:28px;line-height:28px;color:#e8667a;">ServiceName</div>
<div class="a" style="left:1052px;top:606.5px;width:1496px;height:149px;background:#25262b;border-radius:7px;"></div>
<div class="a " style="left:1084.0px;top:637.7px;font-size:22px;line-height:22px;color:#909296;">Send to</div>
<div class="a" style="left:1084px;top:672.5px;width:994px;height:59px;background:#25262b;border:2px solid #71727f;border-radius:4px;"></div>
<div class="a " style="left:1106.5px;top:692.2px;font-size:24px;line-height:24px;color:#c1c2c5;">Select a Webhook</div>
<svg class="a" style="left:2041.5px;top:692.7px;" width="13.2" height="20.3" viewBox="0 0 13.2 20.3" fill="none"><polyline points="2,6.89 6.6,2.6 11.2,6.89" stroke="#686972" stroke-width="1.6" stroke-linecap="round" stroke-linejoin="round"/><polyline points="2,13.41 6.6,17.7 11.2,13.41" stroke="#686972" stroke-width="1.6" stroke-linecap="round" stroke-linejoin="round"/></svg>
<div class="a " style="left:2140.5px;top:693.2px;font-size:24px;line-height:24px;color:#b4b5b9;font-weight:700;">Add New Incoming Webhook</div>
<div class="a " style="left:1076.5px;top:812.7px;font-size:26px;line-height:26px;color:#d6d7da;">Threshold chart</div>
<svg class="a" style="left:2521px;top:814px;" width="23.5" height="14.4" viewBox="0 0 23.5 14.4" fill="none"><polyline points="2,12.4 11.75,2 21.5,12.4" stroke="#e4e5e8" stroke-width="2" stroke-linecap="round" stroke-linejoin="round"/></svg>
<svg class="a" style="left:0px;top:0px;" width="3600" height="1852" viewBox="0 0 3600 1852" fill="none"><rect x="1143" y="885.5" width="1395" height="239" fill="#ff0000" fill-opacity="0.055"/><path d="M1142.0,1172.3 C1178.3,1098.1 1214.6,1023.9 1250.8,1023.9 C1287.1,1023.9 1323.4,1023.9 1359.7,1023.9 C1395.9,1023.9 1432.2,1061.4 1468.5,1078.9 C1504.8,1096.5 1541.1,1129.2 1577.3,1129.2 C1613.6,1129.2 1649.9,1124.4 1686.2,1124.4 C1722.4,1124.4 1758.7,1157.9 1795.0,1157.9 C1831.3,1157.9 1867.6,1140.4 1903.8,1134.0 C1940.1,1127.6 1976.4,1124.4 2012.7,1119.6 C2048.9,1114.8 2085.2,1114.8 2121.5,1105.3 C2157.8,1095.7 2194.1,1063.8 2230.3,1038.2 C2266.6,1012.7 2302.9,952.1 2339.2,952.1 C2375.4,952.1 2411.7,988.0 2448.0,1023.9" stroke="#8250dc" stroke-width="1.9" fill="none"/><path d="M1142.0,1172.3 C1178.3,1153.9 1214.6,1135.6 1250.8,1129.2 C1287.1,1122.8 1323.4,1119.6 1359.7,1119.6 C1395.9,1119.6 1432.2,1138.8 1468.5,1138.8 C1504.8,1138.8 1541.1,1137.2 1577.3,1134.0 C1613.6,1130.8 1649.9,1114.8 1686.2,1114.8 C1722.4,1114.8 1758.7,1153.1 1795.0,1153.1 C1831.3,1153.1 1867.6,1138.8 1903.8,1138.8 C1940.1,1138.8 1976.4,1138.8 2012.7,1138.8 C2048.9,1138.8 2085.2,1143.6 2121.5,1143.6 C2157.8,1143.6 2194.1,1124.4 2230.3,1124.4 C2266.6,1124.4 2302.9,1131.6 2339.2,1134.0 C2375.4,1136.4 2411.7,1137.6 2448.0,1138.8" stroke="#20c997" stroke-width="1.9" fill="none"/><path d="M1142.0,1172.3 C1178.3,1172.3 1214.6,1172.3 1250.8,1172.3 C1287.1,1172.3 1323.4,1172.3 1359.7,1172.3 C1395.9,1172.3 1432.2,1172.3 1468.5,1172.3 C1504.8,1172.3 1541.1,1153.1 1577.3,1153.1 C1613.6,1153.1 1649.9,1159.5 1686.2,1162.7 C1722.4,1165.9 1758.7,1172.3 1795.0,1172.3 C1831.3,1172.3 1867.6,1162.7 1903.8,1162.7 C1940.1,1162.7 1976.4,1172.3 2012.7,1172.3 C2048.9,1172.3 2085.2,1172.3 2121.5,1172.3 C2157.8,1172.3 2194.1,1172.3 2230.3,1172.3 C2266.6,1172.3 2302.9,1172.3 2339.2,1172.3 C2375.4,1172.3 2411.7,1167.5 2448.0,1162.7" stroke="#cdad7a" stroke-width="1.9" fill="none"/><path d="M1142.0,1172.3 C1178.3,1172.3 1214.6,1172.3 1250.8,1172.3 C1287.1,1172.3 1323.4,1167.5 1359.7,1167.5 C1395.9,1167.5 1432.2,1172.3 1468.5,1172.3 C1504.8,1172.3 1541.1,1167.5 1577.3,1167.5 C1613.6,1167.5 1649.9,1172.3 1686.2,1172.3 C1722.4,1172.3 1758.7,1167.5 1795.0,1167.5 C1831.3,1167.5 1867.6,1172.3 1903.8,1172.3 C1940.1,1172.3 1976.4,1167.5 2012.7,1167.5 C2048.9,1167.5 2085.2,1172.3 2121.5,1172.3 C2157.8,1172.3 2194.1,1167.5 2230.3,1167.5 C2266.6,1167.5 2302.9,1172.3 2339.2,1172.3 C2375.4,1172.3 2411.7,1172.3 2448.0,1172.3" stroke="#0d6efd" stroke-width="2.1" fill="none"/><path d="M1142.0,1172.3 C1178.3,1172.3 1214.6,1172.3 1250.8,1172.3 C1287.1,1172.3 1323.4,1172.3 1359.7,1172.3 C1395.9,1172.3 1432.2,1172.3 1468.5,1172.3 C1504.8,1172.3 1541.1,1153.1 1577.3,1153.1 C1613.6,1153.1 1649.9,1159.5 1686.2,1162.7 C1722.4,1165.9 1758.7,1172.3 1795.0,1172.3 C1831.3,1172.3 1867.6,1162.7 1903.8,1162.7 C1940.1,1162.7 1976.4,1172.3 2012.7,1172.3 C2048.9,1172.3 2085.2,1172.3 2121.5,1172.3 C2157.8,1172.3 2194.1,1172.3 2230.3,1172.3 C2266.6,1172.3 2302.9,1172.3 2339.2,1172.3 C2375.4,1172.3 2411.7,1167.5 2448.0,1162.7" stroke="#fd7e14" stroke-width="1.9" fill="none"/><path d="M1142.0,1172.3 C1178.3,1172.3 1214.6,1172.3 1250.8,1172.3 C1287.1,1172.3 1323.4,1172.3 1359.7,1172.3 C1395.9,1172.3 1432.2,1172.3 1468.5,1172.3 C1504.8,1172.3 1541.1,1157.9 1577.3,1157.9 C1613.6,1157.9 1649.9,1165.1 1686.2,1167.5 C1722.4,1169.9 1758.7,1172.3 1795.0,1172.3 C1831.3,1172.3 1867.6,1167.5 1903.8,1167.5 C1940.1,1167.5 1976.4,1172.3 2012.7,1172.3 C2048.9,1172.3 2085.2,1172.3 2121.5,1172.3 C2157.8,1172.3 2194.1,1172.3 2230.3,1172.3 C2266.6,1172.3 2302.9,1172.3 2339.2,1172.3 C2375.4,1172.3 2411.7,1169.9 2448.0,1167.5" stroke="#0dcaf0" stroke-width="1.9" fill="none"/><path d="M1142.0,1172.3 C1178.3,1172.3 1214.6,1172.3 1250.8,1172.3 C1287.1,1172.3 1323.4,1172.3 1359.7,1172.3 C1395.9,1172.3 1432.2,1172.3 1468.5,1172.3 C1504.8,1172.3 1541.1,1138.8 1577.3,1138.8 C1613.6,1138.8 1649.9,1152.3 1686.2,1157.9 C1722.4,1163.5 1758.7,1172.3 1795.0,1172.3 C1831.3,1172.3 1867.6,1157.9 1903.8,1157.9 C1940.1,1157.9 1976.4,1172.3 2012.7,1172.3 C2048.9,1172.3 2085.2,1172.3 2121.5,1172.3 C2157.8,1172.3 2194.1,1172.3 2230.3,1172.3 C2266.6,1172.3 2302.9,1172.3 2339.2,1172.3 C2375.4,1172.3 2411.7,1165.1 2448.0,1157.9" stroke="#868e96" stroke-width="1.9" fill="none"/><line x1="1143" y1="1124.4" x2="2538" y2="1124.4" stroke="#f00000" stroke-width="2.3" stroke-dasharray="6.6 5.2"/><path d="M1130,885.6 H1142 V1172.3 H2538" stroke="#6f7074" stroke-width="2" fill="none"/><path d="M1130,1029 H1142 M1130,1172.3 H1142" stroke="#6f7074" stroke-width="2"/><line x1="1142" y1="1172" x2="1142" y2="1184" stroke="#6f7074" stroke-width="2"/><line x1="1577.3" y1="1172" x2="1577.3" y2="1184" stroke="#6f7074" stroke-width="2"/><line x1="2012.6" y1="1172" x2="2012.6" y2="1184" stroke="#6f7074" stroke-width="2"/><line x1="2448" y1="1172" x2="2448" y2="1184" stroke="#6f7074" stroke-width="2"/></svg>
<div class="a " style="left:1099.5px;top:883.9px;font-size:22px;line-height:22px;color:#707175;">60</div>
<div class="a " style="left:1099.5px;top:1020.7px;font-size:22px;line-height:22px;color:#707175;">30</div>
<div class="a " style="left:1112.5px;top:1163.1px;font-size:22px;line-height:22px;color:#707175;">0</div>
<div class="a " style="left:1052.0px;top:1187.7px;font-size:22px;line-height:22px;color:#707175;">May 28 2:25:00 PM</div>
<div class="a " style="left:1511.5px;top:1187.7px;font-size:22px;line-height:22px;color:#707175;">2:45:00 PM</div>
<div class="a " style="left:1946.5px;top:1187.7px;font-size:22px;line-height:22px;color:#707175;">3:05:00 PM</div>
<div class="a " style="left:2382.0px;top:1187.7px;font-size:22px;line-height:22px;color:#707175;">3:25:00 PM</div>
<div class="a " style="left:1741.0px;top:1115.4px;font-size:22px;line-height:22px;color:#d4d5d8;">Alert Threshold</div>
<div class="a" style="left:1062px;top:1245px;width:24px;height:2.4px;background:#20c997;"></div>
<div class="a " style="left:1095.0px;top:1237.1px;font-size:22px;line-height:22px;color:#20c997;">count() &#183; frontend-proxy</div>
<div class="a" style="left:1427px;top:1245px;width:24px;height:2.4px;background:#8250dc;"></div>
<div class="a " style="left:1460.0px;top:1237.1px;font-size:22px;line-height:22px;color:#8250dc;">count() &#183; load-generator</div>
<div class="a" style="left:1792px;top:1245px;width:24px;height:2.4px;background:#cdad7a;"></div>
<div class="a " style="left:1825.0px;top:1237.1px;font-size:22px;line-height:22px;color:#cdad7a;">count() &#183; ad</div>
<div class="a" style="left:1998px;top:1245px;width:24px;height:2.4px;background:#0d6efd;"></div>
<div class="a " style="left:2031.0px;top:1237.1px;font-size:22px;line-height:22px;color:#0d6efd;">count() &#183; recommendation</div>
<div class="a " style="left:2362.5px;top:1237.1px;font-size:22px;line-height:22px;color:#8b90a5;">+3 more</div>
<div class="a" style="left:2363px;top:1256.5px;width:91.5px;height:1.6px;background:#62667a;"></div>
<div class="a" style="left:1020px;top:1308px;width:1560px;height:2px;background:#373a40;"></div>
<div class="a" style="left:1939px;top:1350px;width:170px;height:72px;background:#2a2b31;border-radius:6px;"></div>
<div class="a " style="left:1977.0px;top:1375.3px;font-size:26px;line-height:26px;color:#b2b3b8;font-weight:700;">Cancel</div>
<div class="a" style="left:2129px;top:1350px;width:419px;height:72px;background:#1d3b35;border-radius:6px;"></div>
<div class="a " style="left:2166.5px;top:1375.3px;font-size:26px;line-height:26px;color:#68ecc3;font-weight:700;">Save Search with Alert</div>
<div class="a" style="left:0;top:-20px;width:3600px;height:1872px;border:2.2px solid #37393a;border-radius:0 0 21px 21px;box-shadow:0 0 0 40px #0c0c0e;pointer-events:none;"></div>
<div class="a" style="left:0px;top:0px;width:3600px;height:1.2px;background:#46464d;"></div>
</div></body></html>
